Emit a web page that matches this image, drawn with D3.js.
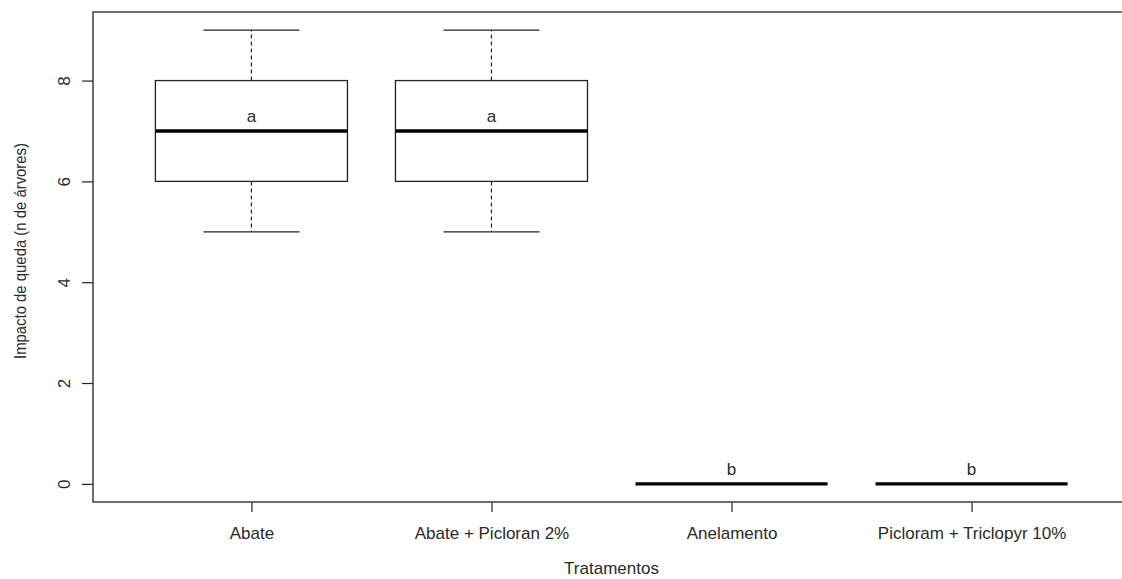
<!DOCTYPE html>
<html>
<head>
<meta charset="utf-8">
<script src="https://cdn.jsdelivr.net/npm/d3@7"></script>
<style>
  html, body { margin: 0; padding: 0; background: #fff; }
  svg { display: block; }
  text { font-family: "Liberation Sans", Arial, sans-serif; fill: #2a2a2a; }
</style>
</head>
<body>
<svg id="chart" width="1122" height="579"></svg>
<script>
// Treatments and five-number summaries (min, Q1, median, Q3, max)
const categories = ["Abate", "Abate + Picloran 2%", "Anelamento", "Picloram + Triclopyr 10%"];
const mins    = [5, 5, 0, 0];
const q1s     = [6, 6, 0, 0];
const medians = [7, 7, 0, 0];
const q3s     = [8, 8, 0, 0];
const maxs    = [9, 9, 0, 0];
const groupLetters = ["a", "a", "b", "b"];
const yTicks = [0, 2, 4, 6, 8];

const svg = d3.select("#chart");
const plot = { left: 93, right: 1130, top: 12, bottom: 502 };

// R-style padding: x from 0.5 to n+0.5, y from 0 to 9, each widened by 4%
const xs = d3.scaleLinear().domain([0.34, 4.66]).range([plot.left, plot.right]);
const ys = d3.scaleLinear().domain([-0.36, 9.36]).range([plot.bottom, plot.top]);

const boxW = xs(1.4) - xs(1.0);      // half box width (0.4 units)
const capW = xs(1.2) - xs(1.0);      // half staple width
const ink = "#222";

const boxes = categories.map((c, i) => ({
  name: c, pos: i + 1, min: mins[i], q1: q1s[i], med: medians[i], q3: q3s[i], max: maxs[i], letter: groupLetters[i]
}));

const g = svg.append("g");

// whiskers (dashed), staples, boxes, medians and group letters
boxes.forEach(b => {
  const cx = xs(b.pos);
  g.append("line").attr("x1", cx).attr("x2", cx).attr("y1", ys(b.q3)).attr("y2", ys(b.max))
    .attr("stroke", ink).attr("stroke-width", 1.2).attr("stroke-dasharray", "4,3");
  g.append("line").attr("x1", cx).attr("x2", cx).attr("y1", ys(b.q1)).attr("y2", ys(b.min))
    .attr("stroke", ink).attr("stroke-width", 1.2).attr("stroke-dasharray", "4,3");
  [b.min, b.max].forEach(v => {
    g.append("line").attr("x1", cx - capW).attr("x2", cx + capW).attr("y1", ys(v)).attr("y2", ys(v))
      .attr("stroke", ink).attr("stroke-width", 1.3);
  });
  g.append("rect").attr("x", cx - boxW).attr("width", 2 * boxW)
    .attr("y", ys(b.q3)).attr("height", ys(b.q1) - ys(b.q3))
    .attr("fill", "none").attr("stroke", ink).attr("stroke-width", 1.3);
  g.append("line").attr("x1", cx - boxW).attr("x2", cx + boxW).attr("y1", ys(b.med)).attr("y2", ys(b.med))
    .attr("stroke", "#000").attr("stroke-width", 3.4);
  g.append("text").attr("x", cx).attr("y", ys(b.med) - 8.5)
    .attr("text-anchor", "middle").attr("font-size", 17).text(b.letter);
});

// frame
svg.append("rect").attr("x", plot.left).attr("y", plot.top)
  .attr("width", plot.right - plot.left).attr("height", plot.bottom - plot.top)
  .attr("fill", "none").attr("stroke", ink).attr("stroke-width", 1.3);

// y axis
const yAxis = svg.append("g").attr("transform", `translate(${plot.left},0)`)
  .call(d3.axisLeft(ys).tickValues(yTicks).tickSize(11).tickFormat(d3.format("d")));
yAxis.select(".domain").remove();
yAxis.selectAll(".tick line").attr("stroke", ink).attr("stroke-width", 1.2);
yAxis.selectAll(".tick text")
  .attr("x", null).attr("dy", null).attr("font-size", 17)
  .attr("text-anchor", "middle")
  .attr("transform", "translate(-23,0) rotate(-90)")
  .style("fill", "#2a2a2a");

// x axis
const xAxis = svg.append("g").attr("transform", `translate(0,${plot.bottom})`)
  .call(d3.axisBottom(xs).tickValues(boxes.map(b => b.pos)).tickSize(10)
    .tickFormat((d, i) => categories[i]));
xAxis.select(".domain").remove();
xAxis.selectAll(".tick line").attr("stroke", ink).attr("stroke-width", 1.2);
xAxis.selectAll(".tick text").attr("y", 37).attr("dy", null).attr("font-size", 17).style("fill", "#2a2a2a");

// axis titles
svg.append("text").attr("x", xs(2.5)).attr("y", 574).attr("text-anchor", "middle")
  .attr("font-size", 17).text("Tratamentos");
svg.append("text").attr("transform", "translate(26,251) rotate(-90)")
  .attr("text-anchor", "middle").attr("font-size", 17)
  .attr("textLength", 216).attr("lengthAdjust", "spacingAndGlyphs")
  .text("Impacto de queda (n de árvores)");
</script>
</body>
</html>
